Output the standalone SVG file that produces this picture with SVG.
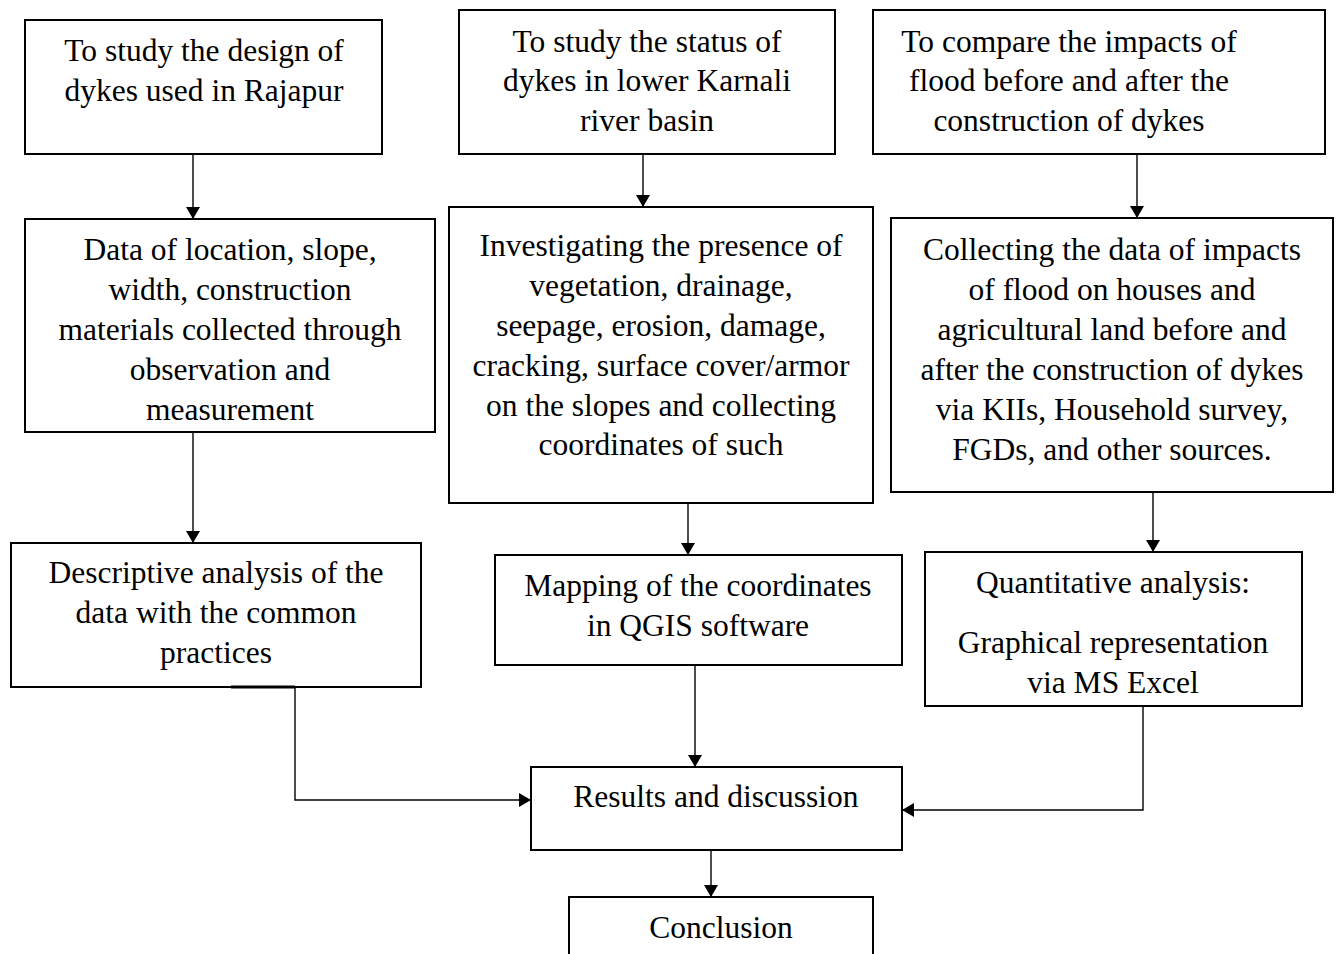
<svg xmlns="http://www.w3.org/2000/svg" width="1341" height="954" viewBox="0 0 1341 954">
<style>
.box{fill:#fff;stroke:#000;stroke-width:2}
.t{font-family:"Liberation Serif","Times New Roman",serif;font-size:31.5px;fill:#000;text-anchor:middle}
.c{fill:none;stroke:#000;stroke-width:1.4}
</style>
<defs>
<marker id="ah" markerWidth="12" markerHeight="14" refX="12" refY="7" orient="auto" markerUnits="userSpaceOnUse">
<path d="M0,0 L12,7 L0,14 Z" fill="#000"/>
</marker>
</defs>
<rect width="1341" height="954" fill="#fff"/>
<g id="connectors">
<line class="c" x1="193" y1="154" x2="193" y2="219" marker-end="url(#ah)"/>
<line class="c" x1="643" y1="154" x2="643" y2="207" marker-end="url(#ah)"/>
<line class="c" x1="1137" y1="154" x2="1137" y2="218" marker-end="url(#ah)"/>
<line class="c" x1="193" y1="432" x2="193" y2="543" marker-end="url(#ah)"/>
<line class="c" x1="688" y1="503" x2="688" y2="555" marker-end="url(#ah)"/>
<line class="c" x1="1153" y1="492" x2="1153" y2="552" marker-end="url(#ah)"/>
<line class="c" x1="695" y1="665" x2="695" y2="767" marker-end="url(#ah)"/>
<polyline class="c" points="295,687 295,800 531,800" marker-end="url(#ah)"/>
<polyline class="c" points="1143,706 1143,810 902,810" marker-end="url(#ah)"/>
<line class="c" x1="711" y1="850" x2="711" y2="897" marker-end="url(#ah)"/>
</g>
<g id="n1">
<rect class="box" x="25" y="20" width="357" height="134"/>
<text class="t" x="204" y="61">To study the design of</text>
<text class="t" x="204" y="101">dykes used in Rajapur</text>
</g>
<g id="n2">
<rect class="box" x="459" y="10" width="376" height="144"/>
<text class="t" x="647" y="52">To study the status of</text>
<text class="t" x="647" y="91">dykes in lower Karnali</text>
<text class="t" x="647" y="131">river basin</text>
</g>
<g id="n3">
<rect class="box" x="873" y="10" width="452" height="144"/>
<text class="t" x="1069" y="52">To compare the impacts of</text>
<text class="t" x="1069" y="91">flood before and after the</text>
<text class="t" x="1069" y="131">construction of dykes</text>
</g>
<g id="n4">
<rect class="box" x="25" y="219" width="410" height="213"/>
<text class="t" x="230" y="260">Data of location, slope,</text>
<text class="t" x="230" y="300">width, construction</text>
<text class="t" x="230" y="340">materials collected through</text>
<text class="t" x="230" y="380">observation and</text>
<text class="t" x="230" y="420">measurement</text>
</g>
<g id="n5">
<rect class="box" x="449" y="207" width="424" height="296"/>
<text class="t" x="661" y="256">Investigating the presence of</text>
<text class="t" x="661" y="296">vegetation, drainage,</text>
<text class="t" x="661" y="336">seepage, erosion, damage,</text>
<text class="t" x="661" y="376">cracking, surface cover/armor</text>
<text class="t" x="661" y="416">on the slopes and collecting</text>
<text class="t" x="661" y="455">coordinates of such</text>
</g>
<g id="n6">
<rect class="box" x="891" y="218" width="442" height="274"/>
<text class="t" x="1112" y="260">Collecting the data of impacts</text>
<text class="t" x="1112" y="300">of flood on houses and</text>
<text class="t" x="1112" y="340">agricultural land before and</text>
<text class="t" x="1112" y="380">after the construction of dykes</text>
<text class="t" x="1112" y="420">via KIIs, Household survey,</text>
<text class="t" x="1112" y="460">FGDs, and other sources.</text>
</g>
<g id="n7">
<rect class="box" x="11" y="543" width="410" height="144"/>
<line x1="231" y1="687" x2="295" y2="687" stroke="#000" stroke-width="3"/>
<text class="t" x="216" y="583">Descriptive analysis of the</text>
<text class="t" x="216" y="623">data with the common</text>
<text class="t" x="216" y="663">practices</text>
</g>
<g id="n8">
<rect class="box" x="495" y="555" width="407" height="110"/>
<text class="t" x="698" y="596">Mapping of the coordinates</text>
<text class="t" x="698" y="636">in QGIS software</text>
</g>
<g id="n9">
<rect class="box" x="925" y="552" width="377" height="154"/>
<text class="t" x="1113" y="593">Quantitative analysis:</text>
<text class="t" x="1113" y="653">Graphical representation</text>
<text class="t" x="1113" y="693">via MS Excel</text>
</g>
<g id="n10">
<rect class="box" x="531" y="767" width="371" height="83"/>
<text class="t" x="716" y="807">Results and discussion</text>
</g>
<g id="n11">
<rect class="box" x="569" y="897" width="304" height="70"/>
<text class="t" x="721" y="938">Conclusion</text>
</g>
</svg>
